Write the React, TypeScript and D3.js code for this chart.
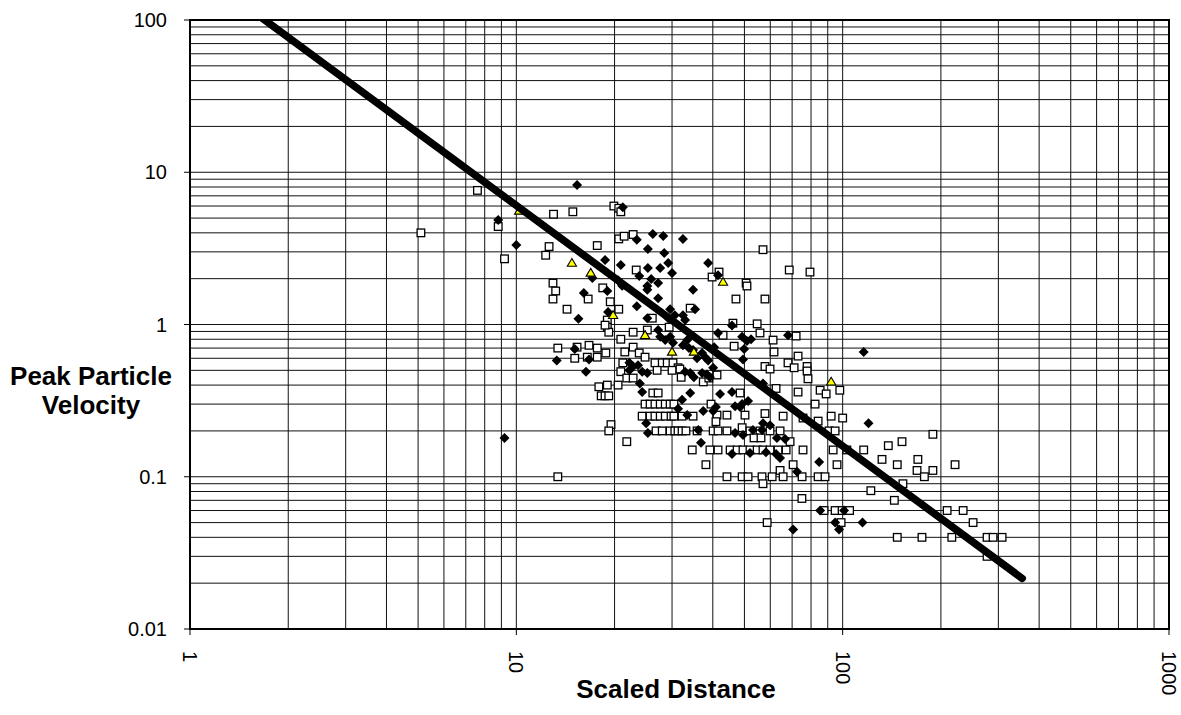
import React from "react";
import * as d3 from "d3";

// scaled distance, peak particle velocity
const squarePoints: [number, number][] = [
  [5.1, 4.0], [7.6, 7.6], [8.8, 4.4], [9.2, 2.7], [12.3, 2.85], [12.6, 3.25], [13.0, 5.3], [14.9, 5.5],
  [19.9, 6.0], [20.6, 5.8], [20.9, 5.5], [17.7, 3.3], [20.6, 3.65], [21.4, 3.8], [22.8, 3.9], [57, 3.1],
  [12.95, 1.87], [13.2, 1.66], [12.95, 1.47], [14.3, 1.26], [16.6, 1.47], [18.4, 1.74], [23.3, 2.28],
  [19.4, 1.41], [20.6, 1.26], [19.0, 1.07], [19.0, 0.96], [19.2, 0.89], [18.7, 0.99], [22.8, 0.89],
  [25.2, 0.92], [20.9, 0.8], [13.4, 0.7], [15.35, 0.71], [16.7, 0.73], [17.7, 0.7], [18.8, 0.65],
  [15.1, 0.6], [16.5, 0.61], [17.7, 0.61], [21.5, 0.66], [22.8, 0.71], [23.8, 0.65], [24.8, 0.61],
  [21.2, 0.56], [20.9, 0.49], [21.8, 0.445], [22.8, 0.445], [17.9, 0.39], [19.0, 0.4], [20.5, 0.4],
  [18.2, 0.34], [18.7, 0.34], [19.2, 0.34], [24.8, 0.3], [24.3, 0.25], [19.5, 0.22], [19.2, 0.2],
  [21.8, 0.17], [50.6, 1.87], [50.9, 1.79], [39.8, 2.05], [41.8, 2.21], [68.6, 2.28], [79.4, 2.21],
  [47.1, 1.47], [57.8, 1.47], [26.1, 1.1], [34.1, 1.28], [29.4, 0.96], [43.0, 0.85], [46.1, 1.02],
  [54.7, 1.01], [55.8, 0.88], [72.0, 0.84], [61.2, 0.79], [46.5, 0.72], [61.6, 0.66], [73, 0.62],
  [68, 0.56], [57.8, 0.53], [59.9, 0.51], [71, 0.52], [77.8, 0.53], [77.8, 0.495], [78.3, 0.44],
  [85.3, 0.37], [89, 0.35], [98, 0.37], [73, 0.36], [62.5, 0.38], [82.3, 0.3],
  [26.6, 0.56], [28, 0.56], [29, 0.56], [30.2, 0.56], [31.3, 0.52], [31.7, 0.51], [27, 0.5], [30, 0.5],
  [32, 0.45], [37.4, 0.42], [38.9, 0.445], [41.2, 0.466], [48.5, 0.355], [39.5, 0.3], [41.2, 0.254],
  [40.9, 0.23], [44.2, 0.254], [50.2, 0.254],
  [25.7, 0.3], [26.6, 0.3], [27.6, 0.3], [28.6, 0.3], [29.6, 0.3], [30.4, 0.3], [26.2, 0.355], [27.2, 0.355],
  [25.7, 0.25], [26.6, 0.25], [27.6, 0.25], [28.6, 0.25], [29.8, 0.25], [30.4, 0.25], [32.2, 0.25], [34.8, 0.25],
  [26.8, 0.2], [28, 0.2], [29.6, 0.2], [30.6, 0.2], [31.3, 0.2], [32.2, 0.2], [33.1, 0.2], [35.8, 0.2],
  [40.1, 0.2], [41.5, 0.2], [44.2, 0.2], [49.2, 0.21], [52, 0.2], [55.8, 0.2], [59.9, 0.2], [64.3, 0.2],
  [90.8, 0.2], [53.5, 0.18], [56.2, 0.18], [57.8, 0.26], [65.7, 0.25], [75.6, 0.243], [84.1, 0.232],
  [92.2, 0.25], [100, 0.243], [94.8, 0.2], [69, 0.17],
  [34.6, 0.15], [39.2, 0.15], [41.5, 0.15], [45.2, 0.15], [47.5, 0.15], [49.5, 0.15], [52, 0.15],
  [54.7, 0.15], [57, 0.15], [59.9, 0.15], [63.4, 0.15], [67.1, 0.15], [75.6, 0.15], [93.5, 0.15],
  [96.1, 0.12], [38.1, 0.12], [64.3, 0.11], [70.5, 0.12], [13.4, 0.1],
  [44.2, 0.1], [49.2, 0.1], [51.3, 0.1], [56.6, 0.1], [60.8, 0.1], [65.7, 0.1], [75.1, 0.1], [84.1, 0.1],
  [88.3, 0.1], [57, 0.09], [75, 0.072], [189, 0.19], [138, 0.16], [152, 0.17], [116, 0.15], [103, 0.15],
  [132, 0.13], [147, 0.12], [170, 0.13], [221, 0.12], [169, 0.11], [178, 0.1], [189, 0.11], [153, 0.09],
  [122, 0.081], [144, 0.07], [87.7, 0.06], [94.8, 0.06], [99.6, 0.06], [105, 0.06], [209, 0.06],
  [234, 0.06], [251, 0.05], [98.9, 0.05], [58.7, 0.05], [147, 0.04], [175, 0.04], [216, 0.04],
  [277, 0.04], [289, 0.04], [308, 0.04], [277, 0.03],
];

const diamondPoints: [number, number][] = [
  [9.2, 0.18], [8.8, 4.86], [10, 3.33], [15.35, 8.25], [21.2, 5.9], [23.4, 3.6], [26.2, 3.93], [28.2, 3.81],
  [32.4, 3.65], [25.3, 3.13], [28.4, 2.95], [18.7, 2.65], [20.9, 2.46], [17.1, 2.02], [23.8, 2.08],
  [16.1, 1.61], [19, 1.66], [20.5, 1.95], [21.1, 1.8], [19.1, 1.21], [15.5, 1.09], [25.2, 1.1],
  [15.1, 0.69], [16.7, 0.59], [13.3, 0.58], [16.35, 0.49], [22.2, 0.56], [22.8, 0.53], [23.6, 0.54],
  [24.3, 0.49], [25.2, 0.48], [22.2, 0.5], [23.9, 0.41], [24.3, 0.36], [25, 0.225], [25.3, 0.194],
  [27.6, 2.35], [29.2, 2.53], [30, 2.18], [25.3, 2.35], [25.9, 1.99], [27.2, 1.87], [25.2, 1.79],
  [25.2, 1.69], [34.8, 1.69], [38.7, 2.53], [41.5, 2.11], [27.2, 1.49], [23.4, 1.32],
  [29.6, 1.26], [30.6, 1.15], [32.4, 1.15], [32.9, 1.07], [35.3, 1.26], [29.2, 1.1], [27.2, 0.92],
  [27.6, 0.83], [29.6, 0.83], [28.6, 0.79], [30.2, 0.76], [33.4, 0.79], [32.4, 0.73], [33.8, 0.7],
  [41.5, 0.88], [45.8, 0.985], [49.2, 0.83], [50.9, 0.78], [52.4, 0.8], [68, 0.85], [49.9, 0.69],
  [49.5, 0.59], [57, 0.41], [40.4, 0.71], [38.7, 0.58], [37.9, 0.61], [35.8, 0.6], [34.8, 0.68],
  [37.1, 0.65], [34.1, 0.48], [35, 0.45], [37.1, 0.48], [38.4, 0.47], [39.2, 0.45], [40.1, 0.52],
  [32.9, 0.49], [34.1, 0.355], [32.2, 0.32], [31.3, 0.28], [33.4, 0.254], [42.1, 0.35], [45.8, 0.36],
  [51.3, 0.314], [49.2, 0.3], [46.8, 0.29], [48.5, 0.287], [37.4, 0.27], [40.1, 0.27], [40.9, 0.287],
  [46.8, 0.194], [49.5, 0.188], [53.1, 0.203], [57, 0.225], [59.9, 0.218], [56.6, 0.203], [36.1, 0.203],
  [36.8, 0.167], [62.9, 0.18], [66.6, 0.177], [45.8, 0.141], [52, 0.143], [58.2, 0.145], [62.5, 0.141],
  [64.3, 0.133], [72.5, 0.108], [84.7, 0.125], [116, 0.66], [120, 0.225], [85.3, 0.06], [101, 0.06],
  [94.8, 0.05], [97.5, 0.045], [115, 0.05], [70.5, 0.045],
];

const trianglePoints: [number, number][] = [
  [10.2, 5.57], [14.8, 2.53], [16.9, 2.18], [19.8, 1.15], [24.8, 0.85], [43, 1.9], [30, 0.66], [35, 0.66],
  [92.2, 0.42],
];

// power-law trend: PPV = K * SD^b
const trendK = 230;
const trendB = -1.58;
const trendRange = [1, 355];

const xTickLabels = [1, 10, 100, 1000];
const yTickLabels = [0.01, 0.1, 1, 10, 100];

const W = 1181;
const H = 715;
const plot = { left: 190, top: 20, right: 1169, bottom: 629 };
const font = "'Liberation Sans', Arial, Helvetica, sans-serif";

// marker shapes
const diamondPath = "M0,-5L5,0L0,5L-5,0Z";
const trianglePath = "M0,-4.6L4.6,3.2L-4.6,3.2Z";

export default function App() {
  const x = d3.scaleLog().domain([1, 1000]).range([plot.left, plot.right]);
  const y = d3.scaleLog().domain([0.01, 100]).range([plot.bottom, plot.top]);

  const trend = d3
    .line<number>()
    .x((d) => x(d))
    .y((d) => y(trendK * Math.pow(d, trendB)))(trendRange);

  return (
    <svg
      width={W}
      height={H}
      style={{ position: "absolute", left: 0, top: 0, background: "#fff" }}
      fontFamily={font}
    >
      <defs>
        <clipPath id="plotClip">
          <rect x={plot.left} y={plot.top} width={plot.right - plot.left} height={plot.bottom - plot.top} />
        </clipPath>
      </defs>
      <rect width={W} height={H} fill="#fff" />

      {/* grid */}
      <g stroke="#111" strokeWidth={1}>
        {x.ticks().map((t, i) => (
          <line key={"gx" + i} x1={x(t)} x2={x(t)} y1={plot.top} y2={plot.bottom} />
        ))}
        {y.ticks().map((t, i) => (
          <line key={"gy" + i} x1={plot.left} x2={plot.right} y1={y(t)} y2={y(t)} />
        ))}
      </g>

      {/* points */}
      <g clipPath="url(#plotClip)">
        {squarePoints.map(([sd, v], i) => (
          <rect
            key={"s" + i}
            x={x(sd) - 3.8}
            y={y(v) - 3.8}
            width={7.6}
            height={7.6}
            fill="#fff"
            stroke="#000"
            strokeWidth={1.3}
          />
        ))}
        {diamondPoints.map(([sd, v], i) => (
          <path key={"d" + i} d={diamondPath} transform={`translate(${x(sd)},${y(v)})`} fill="#000" />
        ))}
        {trianglePoints.map(([sd, v], i) => (
          <path
            key={"t" + i}
            d={trianglePath}
            transform={`translate(${x(sd)},${y(v)})`}
            fill="#ffff00"
            stroke="#000"
            strokeWidth={1.1}
          />
        ))}
        <path d={trend!} fill="none" stroke="#000" strokeWidth={7.5} strokeLinecap="round" />
      </g>

      {/* frame */}
      <rect
        x={plot.left}
        y={plot.top}
        width={plot.right - plot.left}
        height={plot.bottom - plot.top}
        fill="none"
        stroke="#000"
        strokeWidth={2}
      />

      {/* y axis ticks and labels */}
      {yTickLabels.map((t) => (
        <g key={"yl" + t}>
          <line x1={plot.left - 6} x2={plot.left} y1={y(t)} y2={y(t)} stroke="#000" strokeWidth={1} />
          <text x={167} y={y(t)} dy="0.35em" textAnchor="end" fontSize={20} fill="#000">
            {t}
          </text>
        </g>
      ))}

      {/* x axis ticks and labels */}
      {xTickLabels.map((t) => (
        <g key={"xl" + t}>
          <line x1={x(t)} x2={x(t)} y1={plot.bottom} y2={plot.bottom + 6} stroke="#000" strokeWidth={1} />
          <text transform={`translate(${x(t) - 7},651) rotate(90)`} fontSize={20} fill="#000">
            {t}
          </text>
        </g>
      ))}

      {/* axis titles */}
      <text x={676} y={698} textAnchor="middle" fontSize={26} fontWeight="bold" fill="#000">
        Scaled Distance
      </text>
      <text textAnchor="middle" fontSize={26} fontWeight="bold" fill="#000">
        <tspan x={91} y={385}>Peak Particle</tspan>
        <tspan x={91} y={414}>Velocity</tspan>
      </text>
    </svg>
  );
}
